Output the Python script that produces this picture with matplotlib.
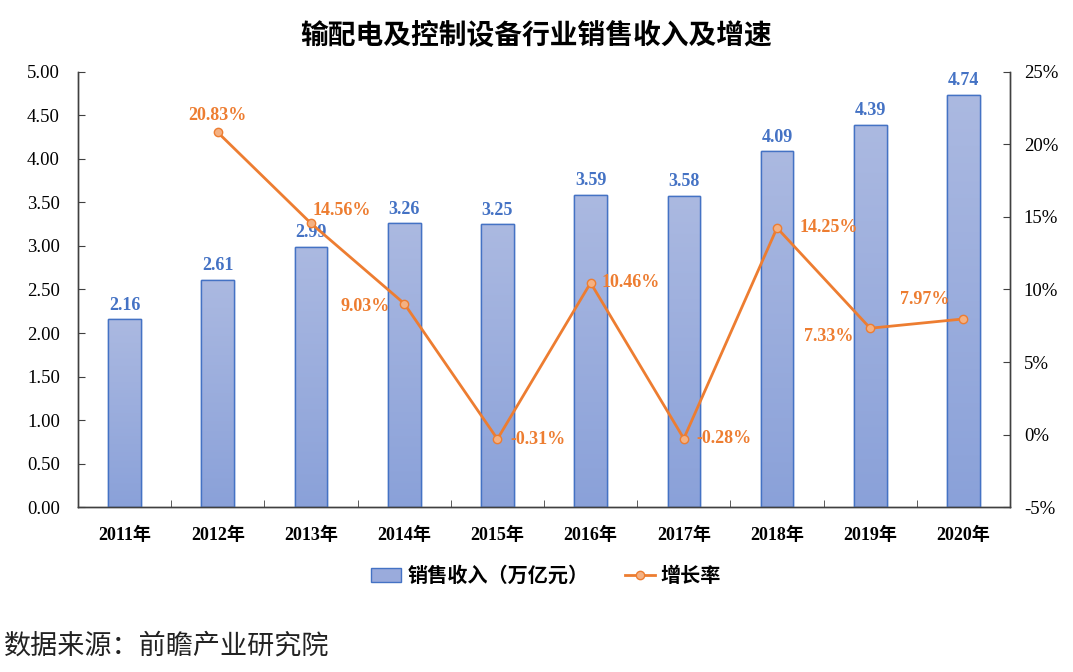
import matplotlib
matplotlib.use("Agg")
import matplotlib.pyplot as plt
import numpy as np
from matplotlib.colors import LinearSegmentedColormap
from matplotlib.lines import Line2D
from matplotlib.patches import Patch

years = ["2011年", "2012年", "2013年", "2014年", "2015年", "2016年", "2017年", "2018年", "2019年", "2020年"]
revenue = [2.16, 2.61, 2.99, 3.26, 3.25, 3.59, 3.58, 4.09, 4.39, 4.74]
growth_years = years[1:]
growth = [20.83, 14.56, 9.03, -0.31, 10.46, -0.28, 14.25, 7.33, 7.97]

title = "输配电及控制设备行业销售收入及增速"
legend_bar = "销售收入（万亿元）"
legend_line = "增长率"
source = "数据来源：前瞻产业研究院"

serif = ["Liberation Serif", "Noto Sans CJK SC"]
cjk = ["Noto Sans CJK SC", "DejaVu Sans"]

bar_edge = "#4472c4"
label_blue = "#4472c4"
orange = "#ed7d31"

fig = plt.figure(figsize=(10.73, 6.72), dpi=100)
ax = fig.add_axes([0.0727, 0.2455, 0.8686, 0.6474])
ax2 = ax.twinx()

x = np.arange(len(years))
bars = ax.bar(x, revenue, width=0.35, color="#9aabdc", edgecolor=bar_edge, linewidth=1.0, zorder=2)

# gradient fill in bars
cmap = LinearSegmentedColormap.from_list("g", ["#8aa1d9", "#abb9e1"])
grad = np.linspace(0, 1, 256).reshape(-1, 1)
for b in bars:
    bx, by = b.get_x(), b.get_y()
    bw, bh = b.get_width(), b.get_height()
    im = ax.imshow(grad, cmap=cmap, origin="lower", aspect="auto",
                   extent=[bx, bx + bw, by, by + bh], zorder=2.5)
    im.set_clip_path(b)
    ax.bar(b.get_x() + bw / 2, bh, width=bw, facecolor="none",
           edgecolor=bar_edge, linewidth=1.0, zorder=3)

for xi, v in zip(x, revenue):
    ax.annotate(f"{v:.2f}", (xi, v), xytext=(0, 4), textcoords="offset points",
                ha="center", va="bottom", color=label_blue, fontsize=13,
                fontweight="bold", family=serif)

gx = x[1:]
ax2.plot(gx, growth, color=orange, linewidth=2, marker="o", markersize=6,
         markerfacecolor="#f4b183", markeredgecolor=orange, markeredgewidth=1, zorder=5)

offsets = [(0, 6, "center", "bottom"),
           (1, 3, "left", "bottom"),
           (-10, -2, "right", "center"),
           (9, 0, "left", "center"),
           (8, 0, "left", "center"),
           (9, 0, "left", "center"),
           (16, 0, "left", "center"),
           (-12, -6, "right", "center"),
           (-10, 8, "right", "bottom")]
for xi, v, (dx, dy, ha, va) in zip(gx, growth, offsets):
    ax2.annotate(f"{v:.2f}%", (xi, v), xytext=(dx, dy), textcoords="offset points",
                 ha=ha, va=va, color=orange, fontsize=13, fontweight="bold",
                 family=serif, zorder=6)

ax.set_xlim(-0.5, len(years) - 0.5)
ax.set_ylim(0, 5)
ax.set_yticks(np.arange(0, 5.01, 0.5))
ax.set_yticklabels([f"{t:.2f}" for t in np.arange(0, 5.01, 0.5)], family=serif, fontsize=13.5)
ax2.set_ylim(-5, 25)
ax2.set_yticks(np.arange(-5, 26, 5))
ax2.set_yticklabels([f"{t}%" for t in range(-5, 26, 5)], family=serif, fontsize=13.5)

ax.set_xticks(x)
ax.set_xticklabels(years, family=serif, fontsize=13, fontweight="bold")
ax.set_xticks(np.arange(-0.5, len(years), 1), minor=True)
ax.tick_params(axis="x", which="major", length=0, pad=14)
ax.tick_params(axis="x", which="minor", direction="in", length=5, color="#404040")
ax.tick_params(axis="y", direction="in", length=5, color="#404040", pad=13)
ax2.tick_params(axis="y", direction="in", length=5, color="#404040", pad=10)

for a in (ax, ax2):
    a.spines["top"].set_visible(False)
    for s in ("left", "right", "bottom"):
        a.spines[s].set_color("#404040")
        a.spines[s].set_linewidth(1)

fig.text(0.5, 0.946, title, ha="center", va="center", fontsize=20,
         fontweight="bold", family=cjk)

handles = [Patch(facecolor="#9aabdc", edgecolor=bar_edge, label=legend_bar),
           Line2D([0], [0], color=orange, lw=2, marker="o", markersize=6,
                  markerfacecolor="#f4b183", markeredgecolor=orange, label=legend_line)]
fig.legend(handles=handles, loc="center", bbox_to_anchor=(0.509, 0.144), ncol=2,
           frameon=False, prop={"family": cjk, "size": 14.5, "weight": "bold"},
           handlelength=1.5, columnspacing=1.8, handletextpad=0.3)

fig.text(0.004, 0.038, source, ha="left", va="center", fontsize=19.5, family=cjk, color="#222222")

fig.savefig("out.png", dpi=100)
